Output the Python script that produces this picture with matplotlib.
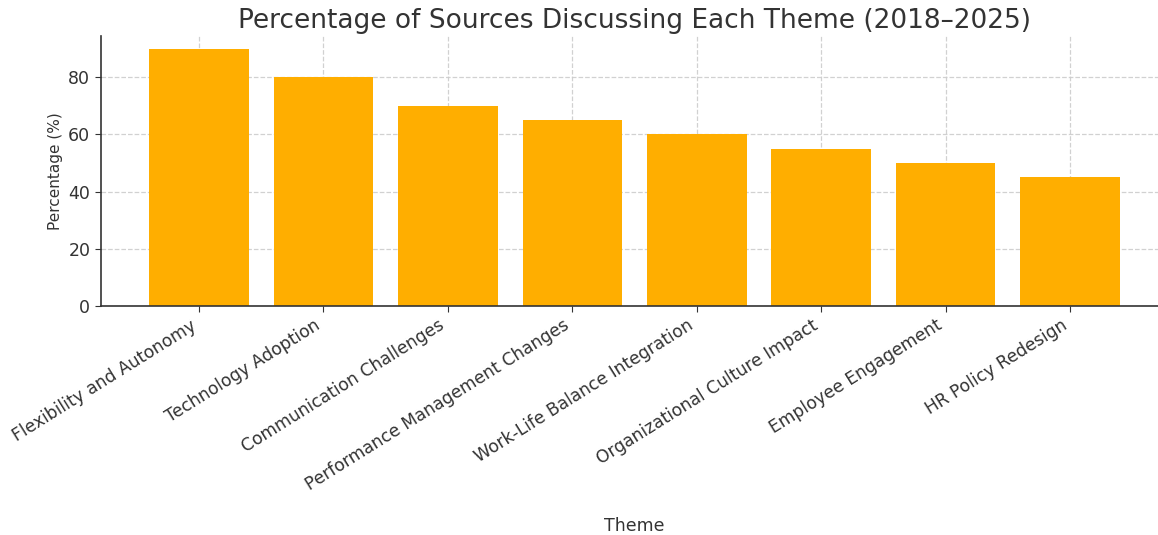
import matplotlib
matplotlib.use("Agg")
import matplotlib.pyplot as plt

plt.rcParams["font.family"] = ["DejaVu Sans"]

themes = [
    "Flexibility and Autonomy",
    "Technology Adoption",
    "Communication Challenges",
    "Performance Management Changes",
    "Work-Life Balance Integration",
    "Organizational Culture Impact",
    "Employee Engagement",
    "HR Policy Redesign",
]
percentages = [90, 80, 70, 65, 60, 55, 50, 45]

title = "Percentage of Sources Discussing Each Theme (2018–2025)"
xlabel = "Theme"
ylabel = "Percentage (%)"

fig = plt.figure(figsize=(11.58, 5.35), dpi=100)
ax = fig.add_axes([0.087, 0.428, 0.922, 0.505])

ax.bar(themes, percentages, color="#FFAE00", width=0.8, zorder=2)
ax.set_ylim(0, 94.5)
ax.set_yticks([0, 20, 40, 60, 80])
ax.grid(True, linestyle="--", color="#cccccc", linewidth=0.9, alpha=0.9, zorder=0)
ax.set_axisbelow(True)

for s in ("top", "right"):
    ax.spines[s].set_visible(False)
for s in ("left", "bottom"):
    ax.spines[s].set_color("#333333")
    ax.spines[s].set_linewidth(1.2)

ax.tick_params(axis="y", labelsize=12.5, colors="#333333", length=4)
ax.tick_params(axis="x", labelsize=12.3, colors="#333333", length=4)
plt.setp(ax.get_xticklabels(), rotation=32, ha="right", rotation_mode="default")

ax.set_title(title, fontsize=19, color="#333333", pad=6)
ax.set_xlabel(xlabel, fontsize=12.5, color="#333333")
ax.xaxis.set_label_coords(0.5, -0.78)
ax.set_ylabel(ylabel, fontsize=11, color="#333333")

fig.savefig("out.png", dpi=100)
